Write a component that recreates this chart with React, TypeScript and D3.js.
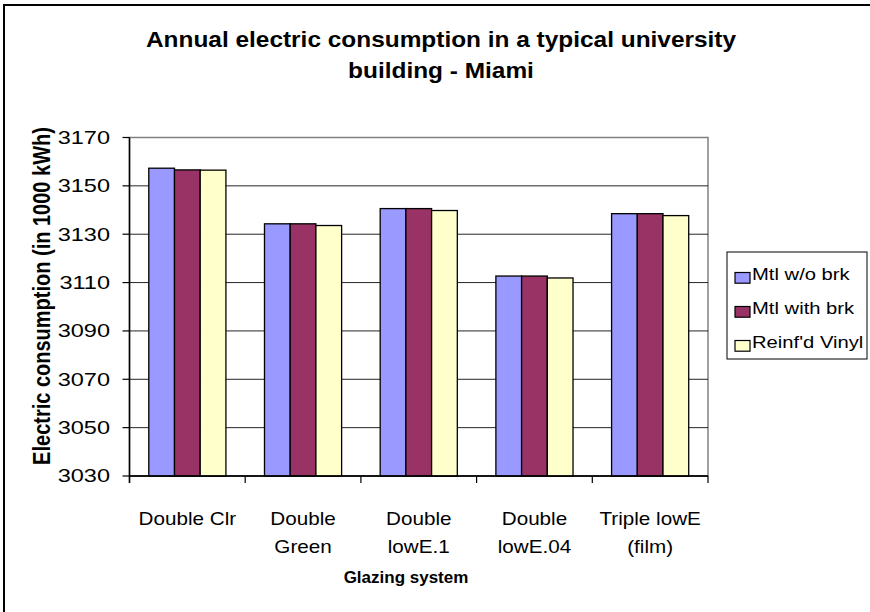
import React from "react";
import * as d3 from "d3";

const categories: string[][] = [
  ["Double Clr"],
  ["Double", "Green"],
  ["Double", "lowE.1"],
  ["Double", "lowE.04"],
  ["Triple lowE", "(film)"],
];
const seriesNames = ["Mtl w/o brk", "Mtl with brk", "Reinf'd Vinyl"];
const mtlWoBrk = [3157.3, 3134.3, 3140.6, 3112.7, 3138.5];
const mtlWithBrk = [3156.6, 3134.3, 3140.6, 3112.7, 3138.5];
const reinfVinyl = [3156.5, 3133.6, 3139.8, 3111.9, 3137.7];
const yTicks = [3030, 3050, 3070, 3090, 3110, 3130, 3150, 3170];
const colors = ["#9999FF", "#993366", "#FFFFCC"];
const titleLines = ["Annual electric consumption in a typical university", "building - Miami"];

const W = 870;
const H = 612;
const plot = { left: 129.5, right: 708, top: 137.5, bottom: 476 };
const FONT = "Liberation Sans, Arial, sans-serif";

export default function App() {
  const series = [mtlWoBrk, mtlWithBrk, reinfVinyl];
  const keys = categories.map((c) => c.join(" "));
  const x0 = d3.scaleBand<string>().domain(keys).range([plot.left, plot.right]).padding(0);
  const bw = x0.bandwidth() / 4.5;
  const x1 = d3
    .scaleBand<string>()
    .domain(seriesNames)
    .range([0.75 * bw, 3.75 * bw])
    .padding(0);
  const y = d3.scaleLinear().domain([3030, 3170]).range([plot.bottom, plot.top]);

  return (
    <svg
      width={W}
      height={H}
      style={{ position: "absolute", left: 0, top: 0, background: "#fff" }}
      fontFamily={FONT}
    >
      <rect x={0} y={0} width={W} height={H} fill="#fff" />
      <rect x={4} y={5} width={W + 40} height={H + 40} fill="none" stroke="#000" strokeWidth={2} />

      {/* title */}
      {titleLines.map((t, i) => (
        <text
          key={i}
          transform={`translate(441,${47 + i * 31}) scale(1.11,1)`}
          textAnchor="middle"
          fontSize={22}
          fontWeight="bold"
          fill="#000"
        >
          {t}
        </text>
      ))}

      {/* plot area */}
      <rect
        x={plot.left}
        y={plot.top}
        width={plot.right - plot.left}
        height={plot.bottom - plot.top}
        fill="#fff"
        stroke="#808080"
        strokeWidth={1.5}
      />
      {yTicks.map((t) => (
        <line
          key={"g" + t}
          x1={plot.left}
          x2={plot.right}
          y1={y(t)}
          y2={y(t)}
          stroke="#000"
          strokeWidth={1}
          opacity={t === 3170 ? 0 : 0.85}
        />
      ))}

      {/* bars */}
      {keys.map((k, ci) => (
        <g key={k} transform={`translate(${x0(k)},0)`}>
          {series.map((s, si) => (
            <rect
              key={si}
              x={x1(seriesNames[si])}
              y={y(s[ci])}
              width={x1.bandwidth()}
              height={y(3030) - y(s[ci])}
              fill={colors[si]}
              stroke="#000"
              strokeWidth={1.3}
            />
          ))}
        </g>
      ))}

      {/* axes */}
      <line x1={plot.left} x2={plot.left} y1={plot.top} y2={plot.bottom + 7} stroke="#000" strokeWidth={1.5} />
      <line x1={plot.left} x2={plot.right} y1={plot.bottom} y2={plot.bottom} stroke="#000" strokeWidth={1.5} />
      {yTicks.map((t) => (
        <g key={"t" + t}>
          <line x1={plot.left - 7} x2={plot.left} y1={y(t)} y2={y(t)} stroke="#000" strokeWidth={1.2} />
          <text
            transform={`translate(110,${y(t) + 6.3}) scale(1.33,1)`}
            textAnchor="end"
            fontSize={17.7}
            fill="#000"
          >
            {t}
          </text>
        </g>
      ))}
      {[...keys.map((k) => x0(k) as number), plot.right].map((xv, i) => (
        <line key={"xt" + i} x1={xv} x2={xv} y1={plot.bottom} y2={plot.bottom + 7} stroke="#000" strokeWidth={1.2} />
      ))}
      {categories.map((lines, ci) => (
        <g key={"xl" + ci}>
          {lines.map((l, li) => (
            <text
              key={li}
              transform={`translate(${(x0(keys[ci]) as number) + x0.bandwidth() / 2},${525 + li * 28}) scale(1.18,1)`}
              textAnchor="middle"
              fontSize={17.5}
              fill="#000"
            >
              {l}
            </text>
          ))}
        </g>
      ))}

      {/* axis titles */}
      <text
        transform={`translate(406,583) scale(1.0,1)`}
        textAnchor="middle"
        fontSize={17}
        fontWeight="bold"
        fill="#000"
      >
        Glazing system
      </text>
      <text
        transform={`translate(50,296) scale(1.15,1) rotate(-90)`}
        textAnchor="middle"
        fontSize={20}
        fontWeight="bold"
        fill="#000"
      >
        Electric consumption (in 1000 kWh)
      </text>

      {/* legend */}
      <rect x={727} y={252} width={140} height={107} fill="#fff" stroke="#000" strokeWidth={1} />
      {seriesNames.map((n, i) => (
        <g key={n} transform={`translate(735,${272.5 + i * 34})`}>
          <rect x={0} y={0} width={15} height={10.7} fill={colors[i]} stroke="#000" strokeWidth={1.2} />
          <text transform={`translate(17,7.5) scale(1.24,1)`} fontSize={16.3} fill="#000">
            {n}
          </text>
        </g>
      ))}
    </svg>
  );
}
